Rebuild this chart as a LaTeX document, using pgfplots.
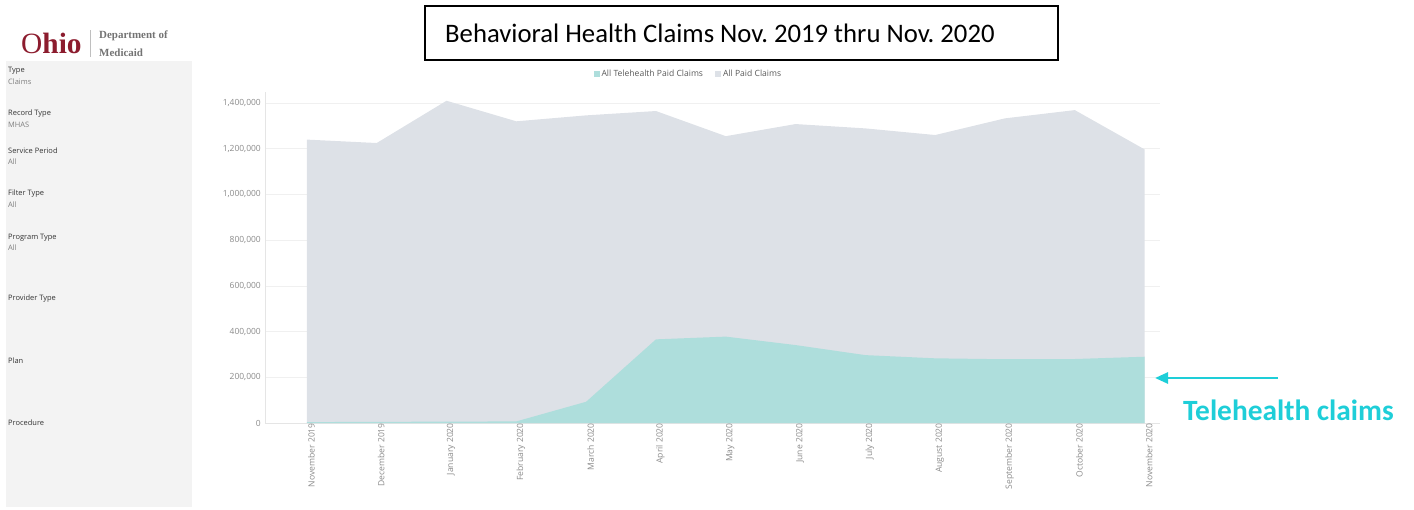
\documentclass[border=0pt]{standalone}
\usepackage{pgfplots}
\pgfplotsset{compat=1.18}
\usepackage{fontspec}
\setmainfont{Open Sans}
\newfontfamily\carlito{Carlito}
\newfontfamily\logoserif{Liberation Serif}
\usetikzlibrary{arrows.meta}
\definecolor{allpaid}{HTML}{DDE1E7}
\definecolor{tele}{HTML}{AEDEDC}
\definecolor{annot}{HTML}{1ECED8}
\definecolor{ohiored}{HTML}{8C1C2E}
\definecolor{panel}{HTML}{F3F3F3}
\definecolor{ticktext}{HTML}{8A8A8A}
\definecolor{headtext}{HTML}{333333}
\definecolor{valtext}{HTML}{7E7E7E}
\begin{document}
\begin{tikzpicture}
\path[use as bounding box] (0bp,0bp) rectangle (1414bp,-510bp);
% left filter panel
\fill[panel] (6bp,-61bp) rectangle (192bp,-507bp);
\begin{scope}[every node/.style={anchor=west, inner sep=0pt, font=\fontsize{7.5}{8}\selectfont}]
\node[text=headtext] at (8bp,-71bp) {Type};
\node[text=valtext] at (8bp,-82bp) {Claims};
\node[text=headtext] at (8bp,-114bp) {Record Type};
\node[text=valtext] at (8bp,-125bp) {MHAS};
\node[text=headtext] at (8bp,-151bp) {Service Period};
\node[text=valtext] at (8bp,-162bp) {All};
\node[text=headtext] at (8bp,-194bp) {Filter Type};
\node[text=valtext] at (8bp,-205bp) {All};
\node[text=headtext] at (8bp,-238bp) {Program Type};
\node[text=valtext] at (8bp,-248bp) {All};
\node[text=headtext] at (8bp,-299bp) {Provider Type};
\node[text=headtext] at (8bp,-361bp) {Plan};
\node[text=headtext] at (8bp,-423bp) {Procedure};
\end{scope}
% logo
\node[anchor=west, inner sep=0pt, text=ohiored, font=\logoserif\fontsize{29.5}{30}\selectfont] at (21bp,-43bp) {O\textbf{hio}};
\draw[black!25, line width=0.6bp] (90.7bp,-30bp) -- (90.7bp,-57bp);
\node[anchor=base west, inner sep=0pt, text=black!55, font=\logoserif\bfseries\fontsize{11}{12}\selectfont] at (99bp,-38.5bp) {Department of};
\node[anchor=base west, inner sep=0pt, text=black!55, font=\logoserif\bfseries\fontsize{11}{12}\selectfont] at (99bp,-56bp) {Medicaid};
% title box
\draw[black, line width=1.1bp] (425bp,-6bp) rectangle (1058bp,-60bp);
\node[anchor=west, inner sep=0pt, font=\carlito\fontsize{26.8}{28}\selectfont] at (445bp,-33bp) {Behavioral Health Claims Nov.\ 2019 thru Nov.\ 2020};
% chart
\begin{axis}[
  at={(265bp,-423bp)}, anchor=south west,
  scale only axis, width=895bp, height=331.4bp,
  xmin=-0.6, xmax=12.22, ymin=0, ymax=1450000,
  axis lines*=left,
  axis line style={-, draw=black!10, line width=0.6bp},
  major tick length=0pt,
  ytick={0,200000,400000,600000,800000,1000000,1200000,1400000},
  scaled y ticks=false,
  yticklabel style={/pgf/number format/fixed, /pgf/number format/1000 sep={,}},
  /pgf/number format/assume math mode=true,
  y tick label style={font=\fontsize{8.5}{10}\selectfont, text=ticktext, inner sep=0pt, xshift=-4bp},
  xtick={0,1,2,3,4,5,6,7,8,9,10,11,12},
  xticklabels={November 2019,December 2019,January 2020,February 2020,March 2020,April 2020,May 2020,June 2020,July 2020,August 2020,September 2020,October 2020,November 2020},
  x tick label style={rotate=90, anchor=east, font=\fontsize{8.6}{9}\selectfont, text=ticktext, inner sep=0pt, yshift=-4.5bp},
  ymajorgrids, grid style={draw=black!6, line width=0.6bp},
  legend style={at={(0.473,1.053)}, anchor=center, draw=none, fill=none,
    font=\fontsize{8.6}{9}\selectfont, text=black!65, legend columns=2,
    /tikz/every even column/.append style={column sep=10bp}},
  legend image code/.code={\fill[#1] (0bp,-3bp) rectangle (6bp,3bp);},
]
\addlegendimage{fill=tele, draw=none}
\addlegendentry{All Telehealth Paid Claims}
\addlegendimage{fill=allpaid, draw=none}
\addlegendentry{All Paid Claims}
\addplot[fill=allpaid, draw=none, forget plot] coordinates {
(0,1240000) (1,1225000) (2,1410000) (3,1320000) (4,1346000) (5,1365000)
(6,1255000) (7,1308000) (8,1289000) (9,1260000) (10,1333000) (11,1369000) (12,1197000)
} \closedcycle;
\addplot[fill=tele, draw=none, forget plot] coordinates {
(0,4000) (1,5000) (2,6000) (3,7000) (4,93000) (5,366000)
(6,378000) (7,341000) (8,297000) (9,283000) (10,279000) (11,280000) (12,290000)
} \closedcycle;
\end{axis}
% annotation
\draw[annot, line width=2.6bp, -{Triangle[length=13bp, width=11bp]}] (1278bp,-378bp) -- (1155bp,-378bp);
\node[anchor=west, inner sep=0pt, text=annot, font=\carlito\bfseries\fontsize{29.5}{31}\selectfont] at (1183bp,-410bp) {Telehealth claims};
\end{tikzpicture}
\end{document}
